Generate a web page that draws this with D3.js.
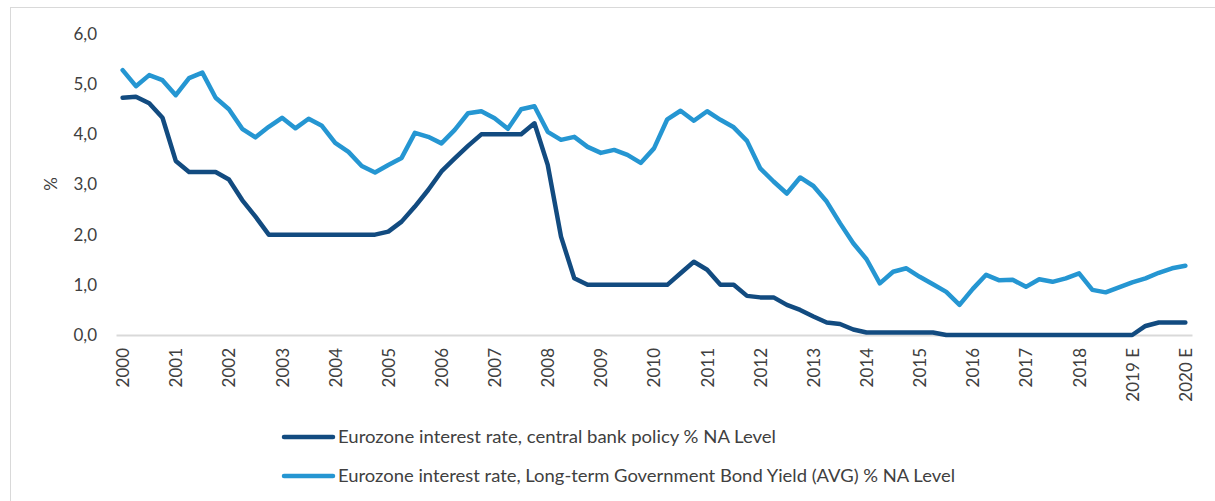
<!DOCTYPE html>
<html>
<head>
<meta charset="utf-8">
<script src="https://cdn.jsdelivr.net/npm/d3@7"></script>
<style>
  html, body { margin: 0; padding: 0; background: #ffffff; }
  svg { display: block; }
</style>
</head>
<body>
<svg id="chart" width="1215" height="501"></svg>
<script>
// ---------- DATA ----------
const years = d3.range(2000, 2021);
const yearLabels = ["2000","2001","2002","2003","2004","2005","2006","2007","2008","2009",
  "2010","2011","2012","2013","2014","2015","2016","2017","2018","2019 E","2020 E"];
// quarterly periods 2000Q1 .. 2020Q1
const periods = [];
years.forEach(y => { for (let q = 1; q <= 4; q++) { if (y < 2020 || q === 1) periods.push(y + "Q" + q); } });

const policyRate = [
  4.73, 4.75, 4.62, 4.33, 3.47, 3.25, 3.25, 3.25, 3.10, 2.69,
  2.36, 2.00, 2.00, 2.00, 2.00, 2.00, 2.00, 2.00, 2.00, 2.00,
  2.06, 2.26, 2.56, 2.89, 3.26, 3.52, 3.77, 4.00, 4.00, 4.00,
  4.00, 4.22, 3.39, 1.96, 1.13, 1.00, 1.00, 1.00, 1.00, 1.00,
  1.00, 1.00, 1.23, 1.46, 1.30, 1.00, 1.00, 0.78, 0.75, 0.75,
  0.60, 0.50, 0.37, 0.25, 0.22, 0.11, 0.05, 0.05, 0.05, 0.05,
  0.05, 0.05, 0.00, 0.00, 0.00, 0.00, 0.00, 0.00, 0.00, 0.00,
  0.00, 0.00, 0.00, 0.00, 0.00, 0.00, 0.00, 0.18, 0.25, 0.25,
  0.25
];
const bondYield = [
  5.28, 4.96, 5.18, 5.08, 4.78, 5.12, 5.23, 4.73, 4.50, 4.11,
  3.94, 4.15, 4.33, 4.12, 4.31, 4.17, 3.83, 3.65, 3.37, 3.24,
  3.39, 3.53, 4.03, 3.95, 3.82, 4.09, 4.42, 4.46, 4.32, 4.11,
  4.50, 4.56, 4.05, 3.89, 3.95, 3.75, 3.63, 3.69, 3.59, 3.43,
  3.72, 4.30, 4.47, 4.27, 4.46, 4.29, 4.14, 3.87, 3.32, 3.06,
  2.82, 3.14, 2.97, 2.66, 2.23, 1.83, 1.51, 1.03, 1.26, 1.33,
  1.16, 1.01, 0.86, 0.60, 0.92, 1.20, 1.09, 1.10, 0.96, 1.11,
  1.06, 1.13, 1.23, 0.90, 0.85, 0.95, 1.05, 1.13, 1.24, 1.33,
  1.38
];
const yTicks = [0, 1, 2, 3, 4, 5, 6];
const seriesNames = [
  "Eurozone interest rate, central bank policy % NA Level",
  "Eurozone interest rate, Long-term Government Bond Yield (AVG) % NA Level"
];
const seriesColors = ["#124b80", "#2596d2"];

// ---------- CHART ----------
const svg = d3.select("#chart");
const FONT = "Lato, 'Open Sans', sans-serif";
const TXT = "#404040";

// outer border
svg.append("rect").attr("x", 10.5).attr("y", 7.5).attr("width", 1300).attr("height", 600)
  .attr("fill", "none").attr("stroke", "#d9d9d9").attr("stroke-width", 1);

const x = d3.scalePoint().domain(periods).range([116, 1192]).padding(0.5);
const y = d3.scaleLinear().domain([0, 6]).range([335, 34]);

// Y axis (labels only)
const yAxis = svg.append("g").attr("transform", "translate(97,0)")
  .call(d3.axisLeft(y).tickValues(yTicks).tickSize(0).tickPadding(0)
    .tickFormat(d => d3.format(".1f")(d).replace(".", ",")));
yAxis.select(".domain").remove();
yAxis.selectAll("text").attr("font-family", FONT).attr("font-size", 17).attr("fill", TXT);

// Y label
svg.append("text").attr("transform", "translate(51,184) rotate(-90)")
  .attr("text-anchor", "middle").attr("dy", "0.35em").attr("font-family", FONT).attr("font-size", 17)
  .attr("fill", TXT).text("%");

// X axis
const tickPeriods = periods.filter((p, i) => i % 4 === 0);
const xAxis = svg.append("g").attr("transform", "translate(0,335)")
  .call(d3.axisBottom(x).tickValues(tickPeriods).tickSize(0)
    .tickFormat(p => yearLabels[tickPeriods.indexOf(p)]));
xAxis.select(".domain").attr("stroke", "#d9d9d9").attr("stroke-width", 2);
xAxis.selectAll("text")
  .attr("font-family", FONT).attr("font-size", 17).attr("fill", TXT)
  .attr("text-anchor", "end").attr("dy", "0.35em")
  .attr("transform", "translate(0,13) rotate(-90)").attr("x", 0).attr("y", 0);

// Lines
const line = d3.line().x((d, i) => x(periods[i])).y(d => y(d));
[policyRate, bondYield].forEach((s, k) => {
  svg.append("path").datum(s).attr("d", line)
    .attr("fill", "none").attr("stroke", seriesColors[k]).attr("stroke-width", 4.5)
    .attr("stroke-linejoin", "round").attr("stroke-linecap", "round");
});

// Legend
const legendY = [437, 476];
const legendW = [438, 617];
seriesNames.forEach((name, k) => {
  svg.append("line").attr("x1", 284).attr("x2", 333).attr("y1", legendY[k]).attr("y2", legendY[k])
    .attr("stroke", seriesColors[k]).attr("stroke-width", 4.5).attr("stroke-linecap", "round");
  svg.append("text").attr("x", 338).attr("y", legendY[k]).attr("dy", "0.35em")
    .attr("font-family", FONT).attr("font-size", 18).attr("fill", TXT)
    .attr("textLength", legendW[k]).attr("lengthAdjust", "spacingAndGlyphs")
    .text(name);
});
</script>
</body>
</html>
